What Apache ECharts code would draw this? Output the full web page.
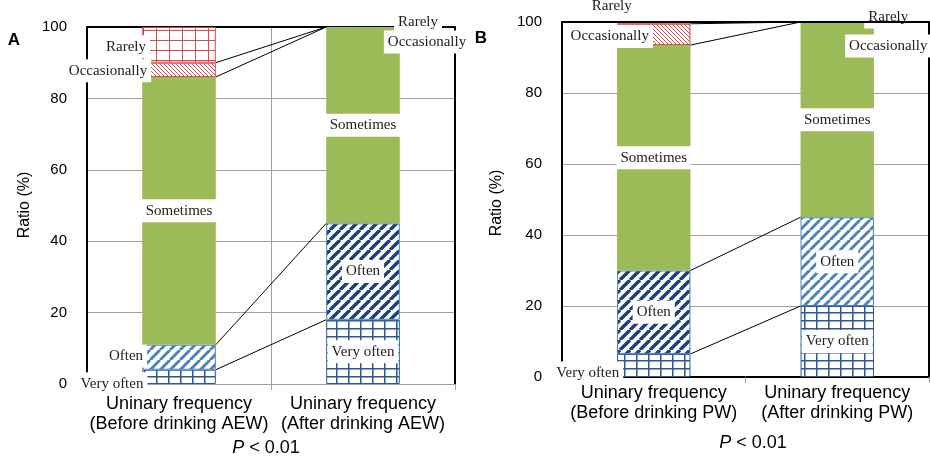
<!DOCTYPE html>
<html><head><meta charset="utf-8">
<script src="https://cdn.jsdelivr.net/npm/echarts@6/dist/echarts.min.js"></script>
<style>html,body{margin:0;padding:0;background:#fff}#c{width:930px;height:461px}</style>
</head><body><div id="c"></div>
<script>
// ---------- data ----------
const levels = ['Very often', 'Often', 'Sometimes', 'Occasionally', 'Rarely'];
const categoriesA = ['Uninary frequency\n(Before drinking AEW)', 'Uninary frequency\n(After drinking AEW)'];
const categoriesB = ['Uninary frequency\n(Before drinking PW)', 'Uninary frequency\n(After drinking PW)'];
const beforeAEW = [4, 7, 75, 4, 10];
const afterAEW = [18, 27, 55, 0, 0];
const beforePW = [6.5, 23.5, 63.5, 6, 0.5];
const afterPW = [20, 25, 55, 0, 0];
const yTicks = [0, 20, 40, 60, 80, 100];
const yTitle = 'Ratio (%)';
const panelLetters = ['A', 'B'];
const pText = 'P < 0.01';

// ---------- styling helpers ----------
const NAVY = '#1F3F78', LBLUE = '#4F81BD', GRIDBLUE = '#2B5797', RED = '#D9484C', GREEN = '#9BBB59';
function mk(w, h) { const c = document.createElement('canvas'); c.width = w; c.height = h; const g = c.getContext('2d'); g.fillStyle = '#fff'; g.fillRect(0, 0, w, h); return [c, g]; }
function gridPat(color, w, h, lw) {
  const [c, g] = mk(w, h); g.strokeStyle = color; g.lineWidth = lw; g.beginPath();
  g.moveTo(lw / 2, 0); g.lineTo(lw / 2, h); g.moveTo(0, lw / 2); g.lineTo(w, lw / 2); g.stroke();
  return { image: c, repeat: 'repeat' };
}
function stripePat(color, s, lw, dir) {
  const [c, g] = mk(s, s); g.strokeStyle = color; g.lineWidth = lw; g.beginPath();
  for (let k = -1; k <= 1; k++) {
    if (dir === '/') { g.moveTo(k * s, s); g.lineTo(k * s + s, 0); }
    else { g.moveTo(k * s, 0); g.lineTo(k * s + s, s); }
  }
  g.stroke(); return { image: c, repeat: 'repeat' };
}
const pats = {
  vo: gridPat(GRIDBLUE, 12, 8, 1.5),
  oftenLight: stripePat(LBLUE, 10, 3, '/'),
  oftenDark: stripePat(NAVY, 10, 3.4, '/'),
  occ: stripePat(RED, 4, 1, '\\'),
  rare: gridPat(RED, 13, 10, 1)
};
function itemStyleFor(panel, ci, li, v) {
  const bw = v > 0 ? 1 : 0;
  if (li === 0) return { color: pats.vo, borderColor: GRIDBLUE, borderWidth: bw };
  if (li === 1) {
    const dark = (panel === 'A') ? ci === 1 : ci === 0;
    return { color: dark ? pats.oftenDark : pats.oftenLight, borderColor: LBLUE, borderWidth: bw };
  }
  if (li === 2) return { color: GREEN };
  if (li === 3) return { color: pats.occ, borderColor: RED, borderWidth: bw };
  return { color: pats.rare, borderColor: RED, borderWidth: bw };
}
// label offsets (px) relative to segment centre, per panel / category / level
const labelPlace = {
  A: [[[-67, 7], [-53, -1], [0, 0], [-71, 1], [-53, 2]],
      [[0, 0], [0, 0], [0, 0], [64, 15], [55, -5]]],
  B: [[[-66, 7.5], [0, 0], [0, 0], [-44, 2], [-42, -17]],
      [[0, 0], [0, 0], [0, 0], [51, 24], [51, -5]]]
};
const cum = (arr, k) => arr.slice(0, k).reduce((a, b) => a + b, 0);

function barSeries(panel, before, after, xi, yi) {
  return levels.map((name, li) => ({
    type: 'bar', name, stack: panel, xAxisIndex: xi, yAxisIndex: yi, barWidth: '40%', z: 2,
    data: [before[li], after[li]].map((v, ci) => ({ value: v, itemStyle: itemStyleFor(panel, ci, li, v) })),
    label: {
      show: true, position: 'inside', formatter: name, color: '#222',
      fontFamily: 'Liberation Serif', fontSize: 15, backgroundColor: '#fff', padding: [4, 4]
    },
    labelLayout: (p) => {
      const o = labelPlace[panel][p.dataIndex][li];
      return { dx: o[0], dy: o[1], hideOverlap: false };
    },
    animation: false
  }));
}
function connSeries(before, after, xi, yi) {
  const data = [1, 2, 3, 4].map(k => [0, cum(before, k), cum(after, k)]);
  return {
    type: 'custom', xAxisIndex: xi, yAxisIndex: yi, z: 3, silent: true,
    encode: { x: 0, y: 1 }, data,
    renderItem: (params, api) => {
      const band = api.size([1, 0])[0];
      const p1 = api.coord([0, api.value(1)]);
      const p2 = api.coord([1, api.value(2)]);
      return { type: 'line', shape: { x1: p1[0] + band * 0.2, y1: p1[1], x2: p2[0] - band * 0.2, y2: p2[1] },
               style: { stroke: '#000', lineWidth: 1 } };
    }
  };
}

const GRAY = '#A0A0A0';
const yMin = yTicks[0], yMax = yTicks[yTicks.length - 1], yInt = yTicks[1] - yTicks[0];
function yLeft(gi) {
  return { type: 'value', gridIndex: gi, min: yMin, max: yMax, interval: yInt, position: 'left',
    axisLine: { show: true, onZero: false, lineStyle: { color: '#000', width: 2 } }, axisTick: { show: false },
    axisLabel: { color: '#000', fontFamily: 'Liberation Sans', fontSize: 15, margin: 20 },
    splitLine: { show: true, lineStyle: { color: GRAY, width: 1 } } };
}
function yRight(gi) {
  return { type: 'value', gridIndex: gi, min: yMin, max: yMax, interval: yInt, position: 'right',
    axisLine: { show: true, onZero: false, lineStyle: { color: '#000', width: 2 } }, axisTick: { show: false },
    axisLabel: { show: false }, splitLine: { show: false } };
}
function xBottom(gi, cats, lineColor, lineW, split, margin) {
  return { type: 'category', gridIndex: gi, data: cats, position: 'bottom',
    axisLine: { show: true, onZero: false, lineStyle: { color: lineColor, width: lineW } },
    axisTick: { show: true, length: 6, lineStyle: { color: GRAY } },
    axisLabel: { color: '#000', fontFamily: 'Liberation Sans', fontSize: 18, lineHeight: 20, margin, interval: 0 },
    splitLine: { show: split, lineStyle: { color: GRAY, width: 1 } } };
}
function xTop(gi, cats, z) {
  return { type: 'category', gridIndex: gi, data: cats, position: 'top', z,
    axisLine: { show: true, onZero: false, lineStyle: { color: '#000', width: 2 } },
    axisTick: { show: false }, axisLabel: { show: false }, splitLine: { show: false } };
}
const txt = (x, y, text, extra) => ({ type: 'text', x, y, z: 10,
  style: Object.assign({ text, fontFamily: 'Liberation Sans', fontSize: 16, fill: '#000', align: 'center', verticalAlign: 'middle' }, extra || {}) });
const pRich = { text: '{i|P}' + pText.slice(1), fontSize: 18, rich: { i: { fontStyle: 'italic', fontSize: 18, fontFamily: 'Liberation Sans' } } };

const option = {
  backgroundColor: '#fff', animation: false,
  grid: [
    { left: 87, right: 475, top: 27, bottom: 77 },
    { left: 562, right: 1, top: 22, bottom: 84 }
  ],
  xAxis: [
    xBottom(0, categoriesA, GRAY, 1, true, 10), xTop(0, categoriesA, 0),
    xBottom(1, categoriesB, '#000', 2, false, 6), xTop(1, categoriesB, 5)
  ],
  yAxis: [yLeft(0), yRight(0), yLeft(1), yRight(1)],
  series: [
    ...barSeries('A', beforeAEW, afterAEW, 0, 0), connSeries(beforeAEW, afterAEW, 0, 0),
    ...barSeries('B', beforePW, afterPW, 2, 2), connSeries(beforePW, afterPW, 2, 2)
  ],
  graphic: [
    Object.assign(txt(25, 205, yTitle), { rotation: Math.PI / 2 }),
    Object.assign(txt(497, 203, yTitle), { rotation: Math.PI / 2 }),
    txt(14, 40, panelLetters[0], { fontWeight: 'bold', fontSize: 17 }),
    txt(481, 38, panelLetters[1], { fontWeight: 'bold', fontSize: 17 }),
    txt(266, 448, '', pRich),
    txt(753, 443, '', pRich)
  ]
};
const chart = echarts.init(document.getElementById('c'), null, { renderer: 'canvas' });
chart.setOption(option);
</script></body></html>
